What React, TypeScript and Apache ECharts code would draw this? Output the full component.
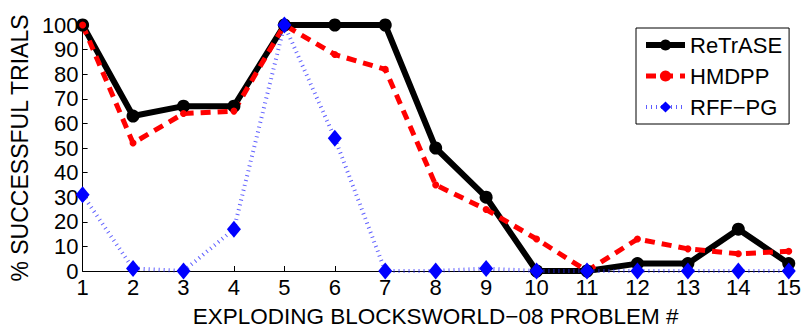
import React, { useEffect, useRef } from "react";
import * as echarts from "echarts";

const problems = [1, 2, 3, 4, 5, 6, 7, 8, 9, 10, 11, 12, 13, 14, 15];
const retrase = [100, 63, 67, 67, 100, 100, 100, 50, 30, 0, 0, 3, 3, 17, 3];
const hmdpp = [100, 52, 64, 65, 100, 88, 82, 35, 25, 13, 0, 13, 9, 7, 8];
const rffpg = [31, 1, 0, 17, 100, 54, 0, 0, 1, 0, 0, 0, 0, 0, 0];
const seriesNames = ["ReTrASE", "HMDPP", "RFF\u2212PG"];
const xTitle = "EXPLODING BLOCKSWORLD\u221208 PROBLEM #";
const yTitle = "% SUCCESSFUL TRIALS";

const FONT = "'Liberation Sans', Arial, Helvetica, sans-serif";

const pairs = (ys: number[]) => problems.map((x, i) => [x, ys[i]]);

export default function App() {
  const ref = useRef<HTMLDivElement>(null);
  useEffect(() => {
    if (!ref.current) return;
    const chart = echarts.init(ref.current, undefined, { renderer: "svg" });
    chart.setOption({
      animation: false,
      backgroundColor: "#ffffff",
      textStyle: { fontFamily: FONT },
      grid: { left: 80, right: 14, top: 25, bottom: 58 },
      legend: {
        orient: "vertical",
        left: 636,
        top: 28,
        backgroundColor: "#ffffff",
        borderColor: "#000000",
        borderWidth: 1,
        borderRadius: 0,
        padding: [6, 7, 6, 7],
        itemWidth: 39,
        itemHeight: 14,
        itemGap: 9,
        lineStyle: { width: "inherit" },
        textStyle: { fontSize: 22, color: "#000", fontFamily: FONT, lineHeight: 22 },
        data: seriesNames,
      },
      xAxis: {
        type: "value",
        min: 1,
        max: 15,
        interval: 1,
        name: xTitle,
        nameLocation: "middle",
        nameGap: 34,
        nameTextStyle: { fontSize: 22.5, color: "#000", fontFamily: FONT },
        axisLine: { lineStyle: { color: "#000", width: 1 } },
        axisTick: { inside: true, length: 5, lineStyle: { color: "#000" } },
        axisLabel: { fontSize: 22, color: "#000", margin: 5, fontFamily: FONT },
        splitLine: { show: false },
      },
      yAxis: {
        type: "value",
        min: 0,
        max: 100,
        interval: 10,
        name: yTitle,
        nameLocation: "middle",
        nameGap: 35,
        nameTextStyle: { fontSize: 23, color: "#000", fontFamily: FONT },
        axisLine: { show: true, lineStyle: { color: "#000", width: 1 } },
        axisTick: { show: true, inside: true, length: 5, lineStyle: { color: "#000" } },
        axisLabel: { fontSize: 22, color: "#000", margin: 4, fontFamily: FONT },
        splitLine: { show: false },
      },
      series: [
        {
          name: seriesNames[0],
          type: "line",
          data: pairs(retrase),
          clip: false,
          symbol: "circle",
          symbolSize: 13,
          itemStyle: { color: "#000" },
          lineStyle: { color: "#000", width: 6 },
        },
        {
          name: seriesNames[1],
          type: "line",
          data: pairs(hmdpp),
          clip: false,
          symbol: "circle",
          symbolSize: 7,
          itemStyle: { color: "#ff0000" },
          lineStyle: { color: "#ff0000", width: 5, type: [10, 7] },
        },
        {
          name: seriesNames[2],
          type: "line",
          data: pairs(rffpg),
          clip: false,
          symbol: "diamond",
          symbolSize: [14, 17],
          itemStyle: { color: "#0000ff" },
          lineStyle: { color: "rgba(40,40,255,0.75)", width: 4, type: [1, 4] },
        },
      ],
    });
    return () => chart.dispose();
  }, []);
  return (
    <div
      ref={ref}
      style={{ position: "fixed", left: 0, top: 0, width: 804, height: 333 }}
    />
  );
}
